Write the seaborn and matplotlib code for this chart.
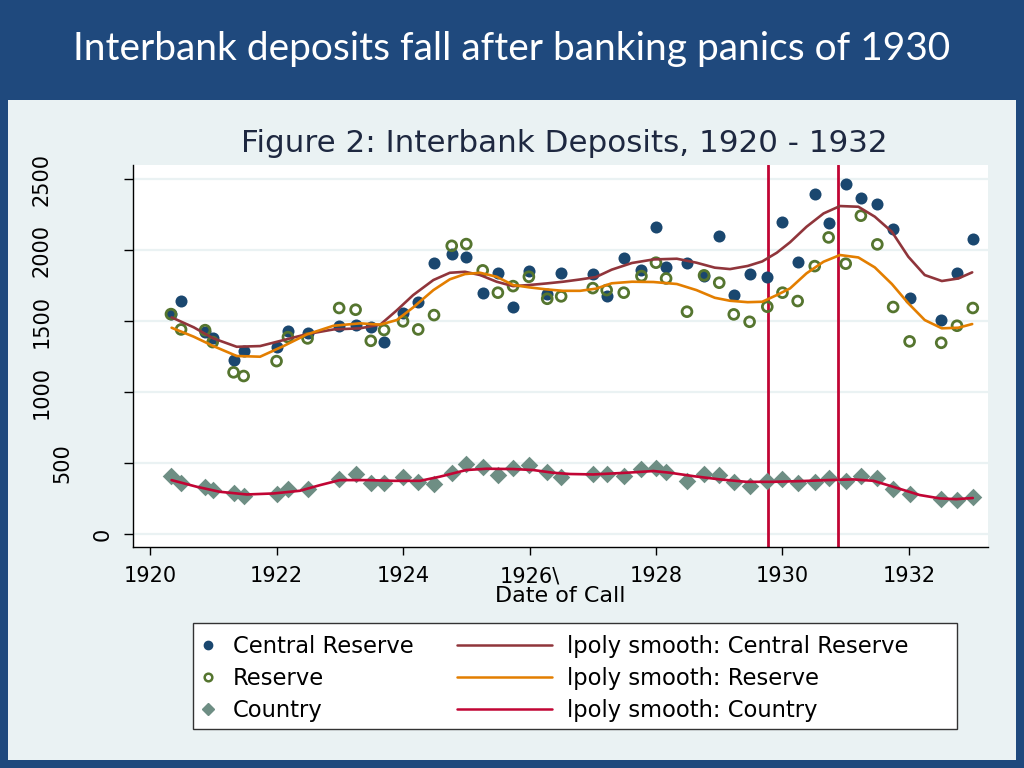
import matplotlib
matplotlib.use("Agg")
import matplotlib.pyplot as plt
import matplotlib.transforms as mtransforms
from matplotlib.lines import Line2D
from matplotlib.patches import Rectangle
import seaborn as sns

# call dates (fractional years) and deposits
dates = [1920.33, 1920.49, 1920.87, 1920.99, 1921.32, 1921.48, 1922.0, 1922.18,
         1922.49, 1922.99, 1923.25, 1923.49, 1923.70, 1924.0, 1924.24, 1924.49,
         1924.77, 1925.0, 1925.26, 1925.50, 1925.74, 1925.99, 1926.28, 1926.50,
         1927.0, 1927.22, 1927.49, 1927.77, 1928.0, 1928.16, 1928.49, 1928.76,
         1929.0, 1929.23, 1929.48, 1929.76, 1930.0, 1930.24, 1930.51, 1930.73,
         1931.0, 1931.24, 1931.50, 1931.75, 1932.01, 1932.51, 1932.76, 1933.01]

central_reserve = [1549, 1643, 1425, 1378, 1228, 1289, 1317, 1427, 1418, 1465, 1470, 1455,
                   1352, 1559, 1634, 1911, 1974, 1948, 1700, 1840, 1596, 1850, 1688, 1840,
                   1831, 1676, 1944, 1859, 2162, 1880, 1906, 1817, 2099, 1685, 1831, 1810,
                   2197, 1918, 2397, 2188, 2465, 2369, 2326, 2146, 1665, 1507, 1840, 2080]

reserve = [1549, 1441, 1436, 1352, 1139, 1113, 1218, 1387, 1378, 1592, 1580, 1361,
           1437, 1498, 1441, 1542, 2030, 2042, 1857, 1700, 1746, 1812, 1657, 1674,
           1732, 1718, 1700, 1817, 1911, 1800, 1566, 1822, 1770, 1547, 1495, 1601,
           1700, 1641, 1887, 2089, 1904, 2242, 2040, 1599, 1357, 1347, 1467, 1592]

country = [411, 357, 333, 310, 286, 270, 282, 315, 315, 387, 420, 357,
           361, 404, 364, 352, 427, 495, 470, 415, 465, 488, 439, 404,
           425, 420, 408, 455, 467, 434, 375, 422, 413, 368, 338, 375,
           385, 357, 366, 392, 375, 408, 397, 317, 282, 249, 237, 263]

# lpoly smooth curves
smooth_x = [1920.34, 1920.69, 1921.0, 1921.37, 1921.74, 1922.11, 1922.48, 1922.9, 1923.32,
            1923.64, 1923.9, 1924.16, 1924.48, 1924.74, 1924.98, 1925.22, 1925.48, 1925.74,
            1926.0, 1926.27, 1926.53, 1926.8, 1927.05, 1927.3, 1927.62, 1927.96, 1928.33,
            1928.64, 1928.93, 1929.17, 1929.45, 1929.68, 1929.91, 1930.12, 1930.38, 1930.65,
            1930.91, 1931.2, 1931.46, 1931.73, 1931.99, 1932.25, 1932.52, 1932.78, 1933.0]

smooth_central = [1526, 1456, 1378, 1319, 1324, 1366, 1408, 1441, 1449,
                  1475, 1575, 1683, 1789, 1840, 1847, 1824, 1777, 1746,
                  1754, 1765, 1777, 1793, 1810, 1862, 1909, 1934, 1939,
                  1911, 1876, 1866, 1888, 1920, 1981, 2055, 2164, 2258,
                  2310, 2305, 2235, 2129, 1953, 1824, 1782, 1800, 1843]

smooth_reserve = [1453, 1390, 1324, 1254, 1249, 1324, 1406, 1467, 1484,
                  1475, 1507, 1596, 1718, 1794, 1831, 1840, 1812, 1754,
                  1737, 1723, 1713, 1713, 1728, 1766, 1777, 1775, 1761,
                  1718, 1664, 1643, 1633, 1636, 1683, 1730, 1836, 1918,
                  1965, 1948, 1878, 1761, 1625, 1507, 1449, 1453, 1479]

smooth_country_x = [1920.34, 1920.74, 1921.1, 1921.53, 1921.95, 1922.37, 1922.69, 1923.0,
                    1923.43, 1923.85, 1924.27, 1924.58, 1925.0, 1925.32, 1925.74, 1926.06,
                    1926.37, 1926.64, 1927.01, 1927.54, 1927.96, 1928.22, 1928.59, 1929.01,
                    1929.43, 1929.85, 1930.28, 1930.7, 1931.12, 1931.44, 1931.75, 1932.17,
                    1932.49, 1932.75, 1933.01]
smooth_country = [380, 333, 298, 279, 286, 305, 345, 380,
                  380, 375, 375, 404, 451, 460, 458, 451,
                  432, 423, 420, 432, 444, 432, 408, 385,
                  368, 368, 373, 380, 385, 375, 333, 275,
                  251, 246, 254]

panic_dates = [1929.77, 1930.88]

x_ticks = [1920, 1922, 1924, 1926, 1928, 1930, 1932]
x_tick_labels = ["1920", "1922", "1924", "1926\\", "1928", "1930", "1932"]
y_ticks = [0, 500, 1000, 1500, 2000, 2500]

navy = "#1a476f"
green = "#55752f"
teal = "#6e8e84"
maroon = "#90353b"
orange = "#e37e00"
cranberry = "#c10534"
slide_blue = "#1f497d"
panel = "#eaf2f3"

sns.set_style("white")
plt.rcParams["font.family"] = ["DejaVu Sans"]
plt.rcParams["text.color"] = "black"
plt.rcParams["axes.labelcolor"] = "black"
plt.rcParams["xtick.color"] = "black"
plt.rcParams["ytick.color"] = "black"

W, H = 1024, 768
fig = plt.figure(figsize=(W / 100, H / 100), dpi=100, facecolor=slide_blue)
fig.patches.append(Rectangle((8 / W, 8 / H), 1008 / W, 660 / H, transform=fig.transFigure,
                             facecolor=panel, edgecolor="none", zorder=-10))

fig.text(0.5, 1 - 49 / H, "Interbank deposits fall after banking panics of 1930",
         color="white", fontsize=28, family=["Lato", "DejaVu Sans"], ha="center", va="center")
fig.text(564 / W, 1 - 144 / H, "Figure 2: Interbank Deposits, 1920 - 1932",
         color="#1e2840", fontsize=22.3, ha="center", va="center")

ax = fig.add_axes([133 / W, (H - 547) / H, (988 - 133) / W, (547 - 165) / H])
ax.set_zorder(1)
ax.set_facecolor("white")

for d in panic_dates:
    ax.axvline(d, color=cranberry, lw=2, zorder=1.5)

sns.scatterplot(x=dates, y=central_reserve, ax=ax, color=navy, s=75, linewidth=0,
                legend=False, zorder=3)
sns.scatterplot(x=dates, y=reserve, ax=ax, marker="o", s=50, facecolors="none",
                edgecolor=green, linewidth=2, legend=False, zorder=3)
sns.scatterplot(x=dates, y=country, ax=ax, marker="D", color=teal, s=80, linewidth=0,
                legend=False, zorder=3)

sns.lineplot(x=smooth_x, y=smooth_central, ax=ax, color=maroon, lw=1.9, legend=False,
             zorder=4, sort=False)
sns.lineplot(x=smooth_x, y=smooth_reserve, ax=ax, color=orange, lw=1.9, legend=False,
             zorder=4, sort=False)
sns.lineplot(x=smooth_country_x, y=smooth_country, ax=ax, color=cranberry, lw=1.9,
             legend=False, zorder=4, sort=False)

ax.set_xlim(1919.73, 1933.25)
ax.set_ylim(-91, 2599)
ax.set_xticks(x_ticks)
ax.set_xticklabels(x_tick_labels, fontsize=15)
ax.set_yticks(y_ticks)
ax.set_yticklabels([])
ax.tick_params(axis="x", direction="out", length=6, width=1, pad=8, color="black",
               labelcolor="black", bottom=True)
ax.tick_params(axis="y", direction="out", length=6.5, width=1, color="black", left=True)
ax.yaxis.grid(True, color=panel, lw=1.6)
ax.xaxis.grid(False)
ax.set_axisbelow(True)
for side in ["top", "right"]:
    ax.spines[side].set_visible(False)
for side in ["left", "bottom"]:
    ax.spines[side].set_color("black")
    ax.spines[side].set_linewidth(1)
ax.set_xlabel("Date of Call", fontsize=16, labelpad=0, color="black")
ax.set_ylabel("")

# rotated y tick labels, stepped out by label length as in the original
blend = mtransforms.blended_transform_factory(fig.transFigure, ax.transData)
for v in y_ticks:
    s = str(v)
    ax.text((123.5 - 20.5 * len(s)) / W, v, s, transform=blend, rotation=90,
            fontsize=15, color="black", ha="center", va="center", clip_on=False)

# legend box with two columns
fig.patches.append(Rectangle((193 / W, (H - 729) / H), 764 / W, 106 / H,
                             transform=fig.transFigure, facecolor="white",
                             edgecolor="#333333", lw=1, zorder=1))
marker_handles = [
    Line2D([], [], ls="none", marker="o", color=navy, markersize=6),
    Line2D([], [], ls="none", marker="o", mfc="none", mec=green, mew=1.8, markersize=5.5),
    Line2D([], [], ls="none", marker="D", color=teal, markersize=6),
]
line_handles = [
    Line2D([], [], color=maroon, lw=1.8),
    Line2D([], [], color=orange, lw=1.8),
    Line2D([], [], color=cranberry, lw=1.8),
]
series_labels = ["Central Reserve", "Reserve", "Country"]
smooth_labels = ["lpoly smooth: Central Reserve", "lpoly smooth: Reserve", "lpoly smooth: Country"]

leg1 = fig.legend(marker_handles, series_labels, loc="upper left",
                  bbox_to_anchor=(197 / W, 1 - 635 / H), frameon=False, fontsize=16.3,
                  handlelength=1, handletextpad=0.6, labelspacing=0.40,
                  borderpad=0, borderaxespad=0, labelcolor="black")
leg2 = fig.legend(line_handles, smooth_labels, loc="upper left",
                  bbox_to_anchor=(457 / W, 1 - 635 / H), frameon=False, fontsize=16.3,
                  handlelength=4.2, handletextpad=0.66, labelspacing=0.40,
                  borderpad=0, borderaxespad=0, labelcolor="black")
for leg in (leg1, leg2):
    leg.set_zorder(2)

fig.savefig("out.png", dpi=100, facecolor=slide_blue)
